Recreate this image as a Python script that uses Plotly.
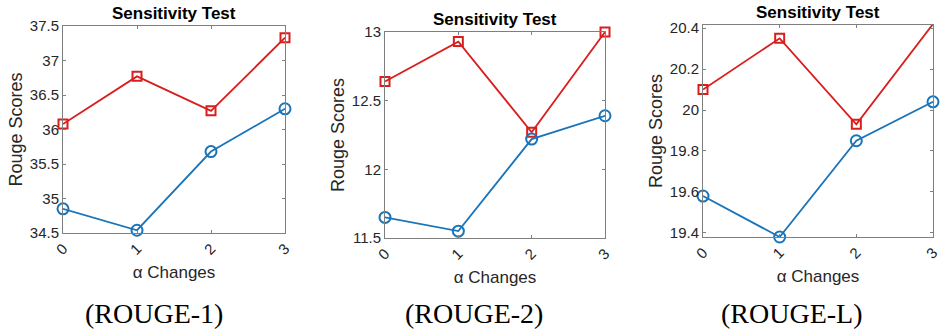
import plotly.graph_objects as go

alpha = [0, 1, 2, 3]
tick_labels = ["0", "1", "2", "3"]

r1_red = [36.08, 36.77, 36.27, 37.33]
r1_blue = [34.85, 34.54, 35.68, 36.30]
r2_red = [12.64, 12.93, 12.27, 13.00]
r2_blue = [11.65, 11.55, 12.22, 12.39]
rl_red = [20.10, 20.35, 19.93, 20.42]
rl_blue = [19.58, 19.38, 19.85, 20.04]

captions = ["(ROUGE-1)", "(ROUGE-2)", "(ROUGE-L)"]
titles = ["Sensitivity Test"] * 3

RED = "#D91E1E"
BLUE = "#1A74B8"
W, H = 943, 330

panels = [
    dict(red=r1_red, blue=r1_blue, x=(63, 285), y=(26, 233), yr=[34.5, 37.5],
         ticks=[34.5, 35, 35.5, 36, 36.5, 37, 37.5], tt=["34.5", "35", "35.5", "36", "36.5", "37", "37.5"]),
    dict(red=r2_red, blue=r2_blue, x=(385, 605), y=(32, 238), yr=[11.5, 13.0],
         ticks=[11.5, 12, 12.5, 13], tt=["11.5", "12", "12.5", "13"]),
    dict(red=rl_red, blue=rl_blue, x=(703, 933), y=(25, 237), yr=[19.38, 20.415],
         ticks=[19.4, 19.6, 19.8, 20.0, 20.2, 20.4], tt=["19.4", "19.6", "19.8", "20", "20.2", "20.4"]),
]

fig = go.Figure()
FONT = "Liberation Sans, Arial"
tickfont = dict(family=FONT, size=15, color="#262626")
annotations = []
for i, p in enumerate(panels):
    sfx = "" if i == 0 else str(i + 1)
    xa, ya = "x" + sfx, "y" + sfx
    fig.add_trace(go.Scatter(x=alpha, y=p["red"], mode="lines+markers", xaxis=xa, yaxis=ya,
                             line=dict(color=RED, width=1.8), cliponaxis=False,
                             marker=dict(symbol="square-open", size=9, color=RED, line=dict(width=2)),
                             showlegend=False))
    fig.add_trace(go.Scatter(x=alpha, y=p["blue"], mode="lines+markers", xaxis=xa, yaxis=ya,
                             line=dict(color=BLUE, width=1.8), cliponaxis=False,
                             marker=dict(symbol="circle-open", size=11, color=BLUE, line=dict(width=2)),
                             showlegend=False))
    x0, x1 = p["x"]
    y0, y1 = p["y"]
    axcommon = dict(showgrid=False, zeroline=False, showline=True, linecolor="#7f7f7f", linewidth=1,
                    mirror="allticks", ticks="inside", ticklen=3, tickcolor="#7f7f7f", tickfont=tickfont,
                    automargin=False)
    fig.layout["xaxis" + sfx] = dict(domain=[x0 / W, x1 / W], range=[0, 3], anchor=ya,
                                     tickvals=alpha, ticktext=tick_labels, tickangle=-45,
                                     title=dict(text="α Changes", font=dict(family=FONT, size=17, color="#262626"), standoff=9),
                                     **axcommon)
    fig.layout["yaxis" + sfx] = dict(domain=[1 - y1 / H, 1 - y0 / H], range=p["yr"], anchor=xa,
                                     tickvals=p["ticks"], ticktext=p["tt"],
                                     title=dict(text="Rouge Scores", font=dict(family=FONT, size=18, color="#262626"), standoff=2),
                                     **axcommon)
    cx = (x0 + x1) / 2
    annotations.append(dict(text="<b>" + titles[i] + "</b>", x=cx / W, y=1 - (y0 - 1) / H, xref="paper", yref="paper",
                            xanchor="center", yanchor="bottom", showarrow=False,
                            font=dict(family=FONT, size=17, color="#000000")))
    annotations.append(dict(text=captions[i], x=[154, 474, 792][i] / W, y=1 - 313 / H, xref="paper", yref="paper",
                            xanchor="center", yanchor="middle", showarrow=False,
                            font=dict(family="Liberation Serif, Times New Roman", size=28, color="#000000")))

fig.update_layout(width=W, height=H, margin=dict(l=0, r=0, t=0, b=0, autoexpand=False),
                  paper_bgcolor="white", plot_bgcolor="white", annotations=annotations)
fig.write_html("out.html", config={"displayModeBar": False},
               post_script="document.body.style.margin='0px';document.body.style.overflow='hidden';")
